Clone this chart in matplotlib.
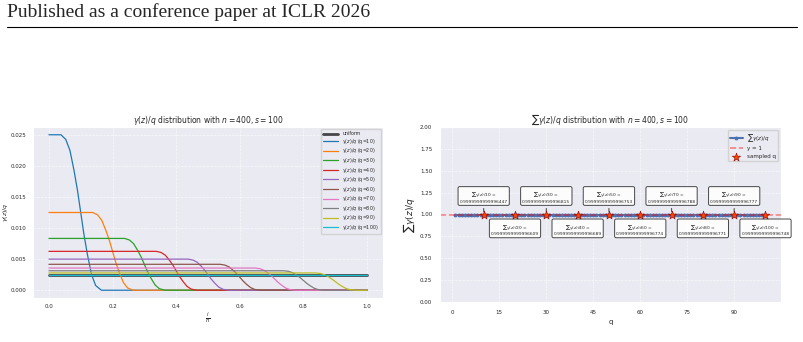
import matplotlib
matplotlib.use("Agg")
import matplotlib.pyplot as plt
import seaborn as sns
from matplotlib.lines import Line2D

# --- left panel: gamma(z)/q curves ---
q_values = [10, 20, 30, 40, 50, 60, 70, 80, 90, 100]
plateau = [0.025, 0.0125, 0.00833, 0.00625, 0.005, 0.00417, 0.00357, 0.00313, 0.00278, 0.0025]
cutoff = [0.10, 0.20, 0.30, 0.40, 0.50, 0.60, 0.71, 0.80, 0.90, None]  # None = stays flat
# shape of the drop around each cutoff (offset in i/n, fraction of plateau left)
drop_offsets = [-0.062, -0.047, -0.034, -0.021, -0.01, 0.0, 0.01, 0.021, 0.034, 0.047, 0.065]
drop_fraction = [1.0, 0.97, 0.9, 0.77, 0.64, 0.5, 0.36, 0.23, 0.1, 0.03, 0.0]
uniform_level = 0.0025

# --- right panel: sum of gamma(z)/q ---
sum_q = list(range(1, 101))
sum_vals = [1.0] * len(sum_q)
sampled_q = [10, 20, 30, 40, 50, 60, 70, 80, 90, 100]
sampled_sums = [0.9999999999996447, 0.9999999999996609, 0.9999999999996815,
                0.9999999999996689, 0.9999999999996753, 0.9999999999996774,
                0.9999999999996788, 0.9999999999996771, 0.9999999999996777,
                0.9999999999996748]

sns.set_style("darkgrid", {"grid.linestyle": "--"})
plt.rcParams["font.family"] = ["DejaVu Sans"]
plt.rcParams["grid.linewidth"] = 0.5
plt.rcParams["grid.alpha"] = 0.7

fig = plt.figure(figsize=(8.04, 3.42), dpi=100)

# page header
fig.text(7 / 804, 1 - 12 / 342, "Published as a conference paper at ICLR 2026",
         family="Liberation Serif", fontsize=14, va="center", ha="left")
fig.add_artist(Line2D([7 / 804, 797 / 804], [1 - 27 / 342] * 2, color="black", lw=0.8))

tick_fs = 4

# left plot
ax1 = fig.add_axes([33 / 804, 1 - 298 / 342, 350 / 804, 171 / 342])
ax1.plot([0, 1], [uniform_level, uniform_level], color="black", lw=2, alpha=0.7, label="uniform")
for q, h, c in zip(q_values, plateau, cutoff):
    if c is None:
        xs, ys = [0, 1], [h, h]
    else:
        xs = [0] + [c + o for o in drop_offsets] + [1]
        ys = [h] + [h * f for f in drop_fraction] + [0]
    ax1.plot(xs, ys, lw=0.9, label=f"$\\gamma(z)/q$ (q={q})")
ax1.set_title(r"$\gamma(z)/q$ distribution with $n=400, s=100$", fontsize=5.5, pad=3)
ax1.set_xlabel(r"$\frac{i}{n}$", fontsize=5.5, labelpad=1)
ax1.set_ylabel(r"$\gamma(z)/q$", fontsize=4.5, labelpad=1)
ax1.tick_params(labelsize=tick_fs, pad=1)
ax1.legend(loc="upper right", fontsize=3.4, handlelength=3.2, labelspacing=0.12,
           borderpad=0.4, frameon=True, facecolor="#EAEAF2", edgecolor="#cccccc")

# right plot
ax2 = fig.add_axes([440 / 804, 1 - 302 / 342, 341 / 804, 175 / 342])
ax2.plot(sum_q, sum_vals, marker="o", markersize=1.8, lw=1.5, color="#4C72B0",
         label=r"$\sum\gamma(z)/q$")
ax2.axhline(1, color="red", ls="--", lw=1.2, alpha=0.45, label="y = 1")
ax2.scatter(sampled_q, sampled_sums, marker="*", s=40, color="orangered",
            edgecolors="darkred", linewidths=0.4, zorder=5, label="sampled q")
for k, (q, v) in enumerate(zip(sampled_q, sampled_sums)):
    y_text = 1.2 if k % 2 == 0 else 0.83
    ax2.annotate(f"$\\sum\\gamma(z)/{q}$ =\n{v}", xy=(q, v), xytext=(q, y_text),
                 fontsize=3.2, ha="center", va="center",
                 bbox=dict(boxstyle="round,pad=0.35", fc="white", ec="#333333", lw=0.7, alpha=0.9),
                 arrowprops=dict(arrowstyle="-", color="#555555", lw=0.8))
ax2.set_ylim(0, 2)
ax2.set_yticks([0, 0.25, 0.5, 0.75, 1.0, 1.25, 1.5, 1.75, 2.0])
ax2.set_xticks([0, 15, 30, 45, 60, 75, 90])
ax2.set_title(r"$\sum\gamma(z)/q$ distribution with $n=400, s=100$", fontsize=5.5, pad=3)
ax2.set_xlabel("q", fontsize=5, labelpad=3)
ax2.set_ylabel(r"$\sum\gamma(z)/q$", fontsize=6.5, labelpad=2)
ax2.tick_params(labelsize=tick_fs, pad=2)
ax2.legend(loc="upper right", fontsize=4, handlelength=2.2, frameon=True,
           facecolor="#EAEAF2", edgecolor="#cccccc")

fig.savefig("out.png", dpi=100)
